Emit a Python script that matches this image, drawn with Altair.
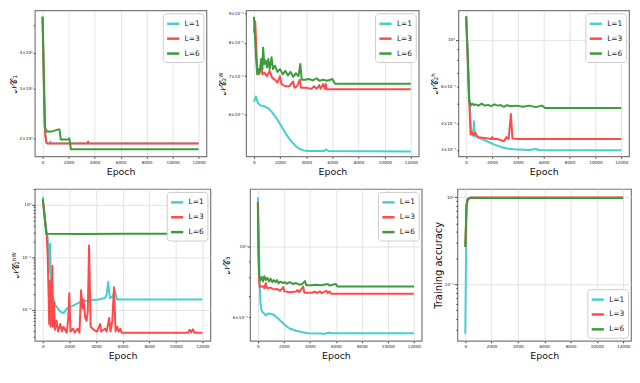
import altair as alt
import pandas as pd

SERIES = ["L=1", "L=3", "L=6"]
COLORS = ["#45cfcf", "#ff4a4a", "#3c9c3c"]
X_TICKS = [0, 2000, 4000, 6000, 8000, 10000, 12000]

# ---------------- Panel 1 : NC1 ----------------
p1_l1_epoch = [0, 100, 200, 300, 550, 600, 650, 12000]
p1_l1_value = [5.36, 3.2, 2.1, 1.92, 1.92, 1.95, 1.92, 1.92]
p1_l3_epoch = [0, 100, 200, 300, 400, 3450, 3500, 3550, 12000]
p1_l3_value = [5.36, 3.0, 2.05, 1.93, 1.917, 1.917, 1.95, 1.917, 1.917]
p1_l6_epoch = [0, 100, 170, 360, 800, 1210, 1300, 1400, 1990, 2060, 2180, 12000]
p1_l6_value = [5.36, 3.3, 2.18, 2.11, 2.12, 2.15, 2.15, 1.98, 1.98, 2.0, 1.83, 1.83]

# ---------------- Panel 2 : NC2^W ----------------
p2_l1_epoch = [0, 150, 300, 500, 800, 1100, 1400, 1700, 2000, 2300, 2600, 2900, 3200, 3500,
               3800, 4200, 5400, 5500, 5700, 12000]
p2_l1_value = [0.631, 0.645, 0.628, 0.622, 0.620, 0.615, 0.605, 0.592, 0.577, 0.562, 0.548, 0.537,
               0.528, 0.522, 0.519, 0.518, 0.518, 0.521, 0.518, 0.517]
p2_l3_epoch = [0, 100, 250, 400, 550, 650, 800, 1000, 1200, 1400, 1600, 1800, 2000, 2100, 2400,
               2700, 3000, 3100, 3300, 3500, 3600, 4000, 4400, 4600, 4800, 5000, 5100, 5300, 5400,
               5500, 5550, 12000]
p2_l3_value = [0.834, 0.872, 0.72, 0.705, 0.74, 0.705, 0.71, 0.70, 0.715, 0.695, 0.69, 0.682, 0.70,
               0.678, 0.672, 0.672, 0.685, 0.668, 0.672, 0.69, 0.668, 0.668, 0.665, 0.672, 0.665,
               0.675, 0.665, 0.678, 0.665, 0.678, 0.664, 0.664]
p2_l6_epoch = [0, 150, 250, 350, 450, 550, 650, 700, 800, 900, 1000, 1100, 1200, 1350, 1450, 1600,
               1800, 2000, 2200, 2400, 2600, 2800, 3000, 3200, 3400, 3550, 3650, 3900, 4200, 4500,
               4800, 5000, 5300, 5600, 6000, 6200, 12000]
p2_l6_value = [0.889, 0.76, 0.705, 0.72, 0.71, 0.75, 0.72, 0.785, 0.735, 0.745, 0.725, 0.75, 0.72,
               0.755, 0.72, 0.73, 0.712, 0.72, 0.705, 0.715, 0.702, 0.712, 0.698, 0.708, 0.70,
               0.735, 0.69, 0.69, 0.692, 0.688, 0.694, 0.687, 0.69, 0.687, 0.692, 0.679, 0.679]

# ---------------- Panel 3 : NC2^h ----------------
p3_l1_epoch = [0, 123, 221, 344, 417, 540, 613, 663, 835, 1200, 1690, 2180, 2675, 3165, 3655,
               4880, 5370, 5620, 12000]
p3_l1_value = [1.29, 0.849, 0.573, 0.40, 0.362, 0.35, 0.41, 0.35, 0.345, 0.338, 0.328, 0.318,
               0.31, 0.305, 0.302, 0.30, 0.303, 0.30, 0.299]
p3_l3_epoch = [0, 123, 221, 344, 466, 589, 712, 810, 957, 1448, 1938, 2012, 2085, 2430, 2920,
               3116, 3288, 3460, 3583, 4000, 12000]
p3_l3_value = [1.29, 0.81, 0.545, 0.355, 0.364, 0.352, 0.363, 0.351, 0.345, 0.342, 0.338, 0.345,
               0.338, 0.338, 0.33, 0.345, 0.338, 0.444, 0.34, 0.338, 0.338]
p3_l6_epoch = [0, 123, 221, 344, 466, 589, 712, 957, 1202, 1448, 1693, 1938, 2184, 2430, 2675,
               2920, 3166, 3411, 3902, 4393, 4883, 5374, 5865, 5988, 6110, 12000]
p3_l6_value = [1.29, 0.849, 0.519, 0.487, 0.498, 0.49, 0.494, 0.487, 0.498, 0.487, 0.491, 0.484,
               0.494, 0.487, 0.49, 0.481, 0.49, 0.484, 0.487, 0.481, 0.487, 0.479, 0.487, 0.481,
               0.474, 0.474]

# ---------------- Panel 4 : NC2^hW ----------------
p4_l1_epoch = [0, 120, 240, 360, 456, 504, 552, 600, 720, 960, 1320, 1560, 1800, 2280, 2760, 3480,
               4200, 4680, 4800, 4920, 5040, 5280, 5400, 5592, 12000]
p4_l1_value = [1.40, 0.668, 0.298, 0.244, 0.117, 0.052, 0.179, 0.0454, 0.0191, 0.0119, 0.0091,
               0.0085, 0.0104, 0.0119, 0.0137, 0.0150, 0.0156, 0.0166, 0.0191, 0.0339, 0.0166,
               0.0178, 0.0234, 0.0156, 0.0156]
p4_l3_epoch = [0, 288, 360, 432, 480, 552, 600, 672, 720, 768, 840, 912, 1032, 1152, 1320, 1440,
               1560, 1800, 1920, 1992, 2088, 2280, 2400, 2640, 2760, 2880, 3000, 3072, 3192, 3288,
               3384, 3480, 3600, 3840, 4080, 4320, 4392, 4680, 4800, 4992, 5088, 5232, 5352, 5472,
               5592, 5712, 5832, 5928, 10920, 11040, 11160, 11280, 11400, 12000]
p4_l3_value = [1.27, 0.279, 0.117, 0.0233, 0.0053, 0.0349, 0.0047, 0.0137, 0.0683, 0.0047, 0.0137,
               0.0041, 0.0061, 0.0038, 0.0053, 0.0038, 0.0047, 0.0036, 0.0069, 0.0204, 0.0038,
               0.0043, 0.0036, 0.0043, 0.0036, 0.0233, 0.0104, 0.0156, 0.0069, 0.0061, 0.0091,
               0.168, 0.0047, 0.0041, 0.0038, 0.0053, 0.0038, 0.0043, 0.0038, 0.0069, 0.0038,
               0.0061, 0.0266, 0.0038, 0.0047, 0.0038, 0.0043, 0.0036, 0.0036, 0.0041, 0.0037,
               0.0042, 0.0036, 0.0036]
p4_l6_epoch = [0, 288, 3000, 6000, 12000]
p4_l6_value = [1.27, 0.279, 0.278, 0.279, 0.279]

# ---------------- Panel 5 : NC3 ----------------
p5_l1_epoch = [0, 73, 122, 196, 294, 490, 612, 735, 980, 1224, 1469, 1714, 1959, 2204, 2449, 2939,
               3429, 3918, 4898, 5020, 5510, 5633, 12000]
p5_l1_value = [1.427, 1.08, 0.812, 0.667, 0.627, 0.617, 0.608, 0.617, 0.616, 0.611, 0.600, 0.587,
               0.574, 0.563, 0.554, 0.545, 0.539, 0.535, 0.534, 0.532, 0.538, 0.535, 0.535]
p5_l3_epoch = [0, 49, 98, 147, 367, 490, 612, 686, 980, 1224, 1469, 1714, 1959, 2033, 2449, 2939,
               3061, 3184, 3478, 3576, 4163, 4408, 4531, 4776, 4898, 5265, 5388, 5510, 5633, 12000]
p5_l3_value = [1.38, 0.968, 0.777, 0.747, 0.752, 0.741, 0.769, 0.741, 0.744, 0.734, 0.737, 0.727,
               0.747, 0.724, 0.720, 0.723, 0.731, 0.720, 0.750, 0.717, 0.717, 0.723, 0.715, 0.724,
               0.715, 0.727, 0.715, 0.724, 0.712, 0.712]
p5_l6_epoch = [0, 49, 98, 196, 294, 392, 490, 612, 735, 857, 980, 1102, 1224, 1347, 1469, 1592,
               1714, 1959, 2082, 2204, 2449, 2694, 2939, 3184, 3429, 3551, 3625, 3722, 4163, 4408,
               4898, 5388, 5510, 5999, 6122, 12000]
p5_l6_value = [1.375, 0.968, 0.812, 0.786, 0.803, 0.777, 0.808, 0.786, 0.798, 0.777, 0.794, 0.774,
               0.786, 0.774, 0.786, 0.767, 0.777, 0.769, 0.774, 0.765, 0.774, 0.764, 0.769, 0.760,
               0.764, 0.774, 0.780, 0.757, 0.757, 0.760, 0.757, 0.764, 0.755, 0.764, 0.750, 0.750]

# ---------------- Panel 6 : Training accuracy ----------------
p6_l1_epoch = [0, 94, 190, 400, 12000]
p6_l1_value = [0.027, 0.82, 0.96, 0.99, 0.99]
p6_l3_epoch = [0, 94, 190, 400, 12000]
p6_l3_value = [0.268, 0.82, 0.96, 1.0, 1.0]
p6_l6_epoch = [0, 94, 190, 400, 12000]
p6_l6_value = [0.268, 0.80, 0.95, 0.985, 0.985]

# y-axis tick values and labels
p1_ticks = [2, 3, 4, 5]
p1_labels = {2: "2×10⁰", 3: "3×10⁰", 4: "4×10⁰"}
p2_ticks = [0.6, 0.7, 0.8, 0.9]
p2_labels = {0.6: "6×10⁻¹", 0.7: "7×10⁻¹", 0.8: "8×10⁻¹", 0.9: "9×10⁻¹"}
p3_ticks = [0.3, 0.4, 0.5, 0.6, 0.7, 0.8, 0.9, 1.0]
p3_labels = {0.3: "3×10⁻¹", 0.4: "4×10⁻¹", 0.6: "6×10⁻¹", 1.0: "10⁰"}
p4_ticks = [0.003, 0.004, 0.005, 0.006, 0.007, 0.008, 0.009, 0.01, 0.02, 0.03, 0.04, 0.05, 0.06,
            0.07, 0.08, 0.09, 0.1, 0.2, 0.3, 0.4, 0.5, 0.6, 0.7, 0.8, 0.9, 1.0, 2.0]
p4_labels = {0.01: "10⁻²", 0.1: "10⁻¹", 1.0: "10⁰"}
p5_ticks = [0.6, 0.7, 0.8, 0.9, 1.0]
p5_labels = {0.6: "6×10⁻¹", 1.0: "10⁰"}
p6_ticks = [0.03, 0.04, 0.05, 0.06, 0.07, 0.08, 0.09, 0.1, 0.2, 0.3, 0.4, 0.5, 0.6, 0.7, 0.8,
            0.9, 1.0]
p6_labels = {0.1: "10⁻¹", 1.0: "10⁰"}

DECADE = "abs(log(datum.value)/LN10 - round(log(datum.value)/LN10)) < 0.000001"


def label_expr(labels):
    expr = "''"
    for t, lab in labels.items():
        expr = f"abs(datum.value - {t}) < {t * 1e-4} ? '{lab}' : ({expr})"
    return expr


def panel(series, ydomain, yticks, ylabels, ytitle, w, h, legend_orient="top-right",
          ytitle_size=8.5):
    rows = []
    for name, (ep, val) in zip(SERIES, series):
        for e, v in zip(ep, val):
            rows.append({"epoch": e, "value": v, "series": name})
    df = pd.DataFrame(rows)
    return alt.Chart(df).mark_line(strokeWidth=2, clip=True, strokeJoin="round").encode(
        x=alt.X("epoch:Q",
                scale=alt.Scale(domain=[-600, 12600], nice=False, zero=False),
                axis=alt.Axis(values=X_TICKS, format="d", title="Epoch", grid=True,
                              labelFontSize=4.2, titleFontSize=9.5, titleFontWeight="normal",
                              tickSize=2, labelPadding=2, titlePadding=2)),
        y=alt.Y("value:Q",
                scale=alt.Scale(type="log", domain=ydomain, nice=False),
                axis=alt.Axis(values=yticks, labelExpr=label_expr(ylabels), title=ytitle,
                              labelFontSize=4.2, titleFontSize=ytitle_size,
                              titleFontWeight="normal", labelPadding=1, titlePadding=1,
                              gridOpacity={"condition": {"test": DECADE, "value": 1}, "value": 0},
                              tickSize={"condition": {"test": DECADE, "value": 3}, "value": 1.6})),
        color=alt.Color("series:N",
                        scale=alt.Scale(domain=SERIES, range=COLORS),
                        legend=alt.Legend(title=None, orient=legend_orient, symbolType="stroke",
                                          symbolStrokeWidth=2.5, symbolSize=150,
                                          labelFontSize=7.5, labelColor="#222",
                                          fillColor="white", strokeColor="#ccc",
                                          cornerRadius=3, padding=3, rowPadding=2, offset=3)),
    ).properties(width=w, height=h)


H1, H2 = 147, 153
c1 = panel([(p1_l1_epoch, p1_l1_value), (p1_l3_epoch, p1_l3_value), (p1_l6_epoch, p1_l6_value)],
           [1.73, 5.64], p1_ticks, p1_labels, "𝒩𝒞₁", 173, H1)
c2 = panel([(p2_l1_epoch, p2_l1_value), (p2_l3_epoch, p2_l3_value), (p2_l6_epoch, p2_l6_value)],
           [0.507, 0.912], p2_ticks, p2_labels, "𝒩𝒞₂ᵂ", 174, H1)
c3 = panel([(p3_l1_epoch, p3_l1_value), (p3_l3_epoch, p3_l3_value), (p3_l6_epoch, p3_l6_value)],
           [0.28, 1.38], p3_ticks, p3_labels, "𝒩𝒞₂ʰ", 172, H1)
c4 = panel([(p4_l1_epoch, p4_l1_value), (p4_l3_epoch, p4_l3_value), (p4_l6_epoch, p4_l6_value)],
           [0.00253, 2.01], p4_ticks, p4_labels, "𝒩𝒞₂ʰᵂ", 177, H2)
c5 = panel([(p5_l1_epoch, p5_l1_value), (p5_l3_epoch, p5_l3_value), (p5_l6_epoch, p5_l6_value)],
           [0.507, 1.516], p5_ticks, p5_labels, "𝒩𝒞₃", 173, H2)
c6 = panel([(p6_l1_epoch, p6_l1_value), (p6_l3_epoch, p6_l3_value), (p6_l6_epoch, p6_l6_value)],
           [0.0224, 1.25], p6_ticks, p6_labels, "Training accuracy", 175, H2,
           legend_orient="bottom-right", ytitle_size=10)

row1 = alt.hconcat(c1, c2, c3, spacing=10).resolve_scale(color="independent").resolve_legend(color="independent")
row2 = alt.hconcat(c4, c5, c6, spacing=10).resolve_scale(color="independent").resolve_legend(color="independent")

chart = alt.vconcat(row1, row2, spacing=10).resolve_scale(color="independent").resolve_legend(
    color="independent"
).configure(
    padding=0,
    font="DejaVu Sans",
).configure_view(
    stroke="#7a7a7a", strokeWidth=1.2
).configure_axis(
    domain=False, gridColor="#dcdcdc", gridWidth=0.8, tickColor="#444", labelColor="#222",
    titleColor="#111"
)

chart.save("out.html", embed_options={"renderer": "svg", "actions": False})
